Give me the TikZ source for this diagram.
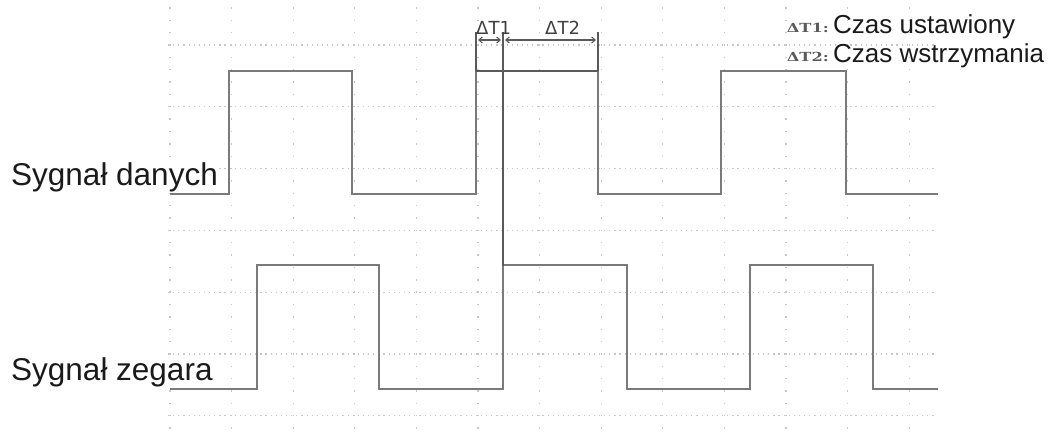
\documentclass[tikz,border=0pt]{standalone}
\usepackage{fontspec}
\setmainfont{Liberation Sans}
\newfontfamily\dvsans{DejaVu Sans}
\newfontfamily\dvserif{DejaVu Serif}
\usetikzlibrary{arrows.meta}
\definecolor{gridc}{HTML}{C8C8C8}
\definecolor{sigc}{HTML}{7A7A7A}
\definecolor{markc}{HTML}{5A5A5A}
\definecolor{txtc}{HTML}{1A1A1A}
\definecolor{dtc}{HTML}{404040}
\tikzset{
 vgrid/.style={gridc, line width=1.3pt, dash pattern=on 1.4pt off 10.96pt},
 hgrid/.style={gridc, line width=1.2pt, dash pattern=on 1.2pt off 3.93pt},
 signal/.style={sigc, line width=2.5pt, line join=miter},
 marker/.style={markc, line width=1.8pt},
 dimarrow/.style={markc, line width=1.1pt, {Straight Barb[length=3.5pt,width=6pt]}-{Straight Barb[length=3.5pt,width=6pt]}},
 siglabel/.style={font=\fontsize{31.5}{34}\selectfont, text=txtc, anchor=base west, inner sep=0pt, fill=white},
 legend/.style={font=\fontsize{26}{28}\selectfont, text=txtc, anchor=base west, inner sep=0pt},
 legkey/.style={font=\dvserif\bfseries\fontsize{12.5}{13}\selectfont, text=markc, anchor=base east, inner sep=0pt},
 dtlabel/.style={font=\dvsans\fontsize{18}{19}\selectfont, text=dtc, anchor=base west, inner sep=0pt},
}
\begin{document}
\begin{tikzpicture}[x=1pt,y=-1pt]
\useasboundingbox (0,0) rectangle (1049,437);
% grid
\foreach \i in {0,...,12}
  \draw[vgrid] ({170+61.6*\i},7.2) -- ({170+61.6*\i},430);
\foreach \j in {0,...,6}
  \draw[hgrid] (168,{45+61.8*\j}) -- (936,{45+61.8*\j});
% labels
\node[siglabel] (ldata) at (11,185) {Sygnał danych};
\node[siglabel] (lclk) at (11,380) {Sygnał zegara};
% signals
\draw[signal] (170,194) -- (229,194) -- (229,71) -- (352,71) -- (352,194) -- (476,194) -- (476,71) -- (598,71) -- (598,194) -- (721,194) -- (721,71) -- (846,71) -- (846,194) -- (938,194);
\draw[signal] (170,389) -- (257,389) -- (257,265) -- (379,265) -- (379,389) -- (503,389) -- (503,265) -- (627,265) -- (627,389) -- (750,389) -- (750,265) -- (873,265) -- (873,389) -- (938,389);
% markers
\coordinate (m1b) at (476,71);  \coordinate (m1t) at (476,32);
\coordinate (m2b) at (503,266); \coordinate (m2t) at (503,32);
\coordinate (m3b) at (598,71);  \coordinate (m3t) at (598,32);
\draw[marker] (m1b) -- (m1t);
\draw[marker] (m2b) -- (m2t);
\draw[marker] (m3b) -- (m3t);
\draw[marker] (m1b) -- (m3b);
\coordinate (a1) at (478,40); \coordinate (a2) at (501,40);
\coordinate (a3) at (505,40); \coordinate (a4) at (596,40);
\draw[dimarrow] (a1) -- (a2);
\draw[dimarrow] (a3) -- (a4);
\node[dtlabel] (dt1) at (476,34) {ΔT1};
\node[dtlabel] (dt2) at (545,34) {ΔT2};
% legend
\node[legkey] (k1) at (829,32) {\scalebox{1.3}[1]{ΔT1:}};
\node[legend] (t1) at (833,33) {Czas ustawiony};
\node[legkey] (k2) at (829,61) {\scalebox{1.3}[1]{ΔT2:}};
\node[legend] (t2) at (833,62) {Czas wstrzymania};
\end{tikzpicture}
\end{document}
